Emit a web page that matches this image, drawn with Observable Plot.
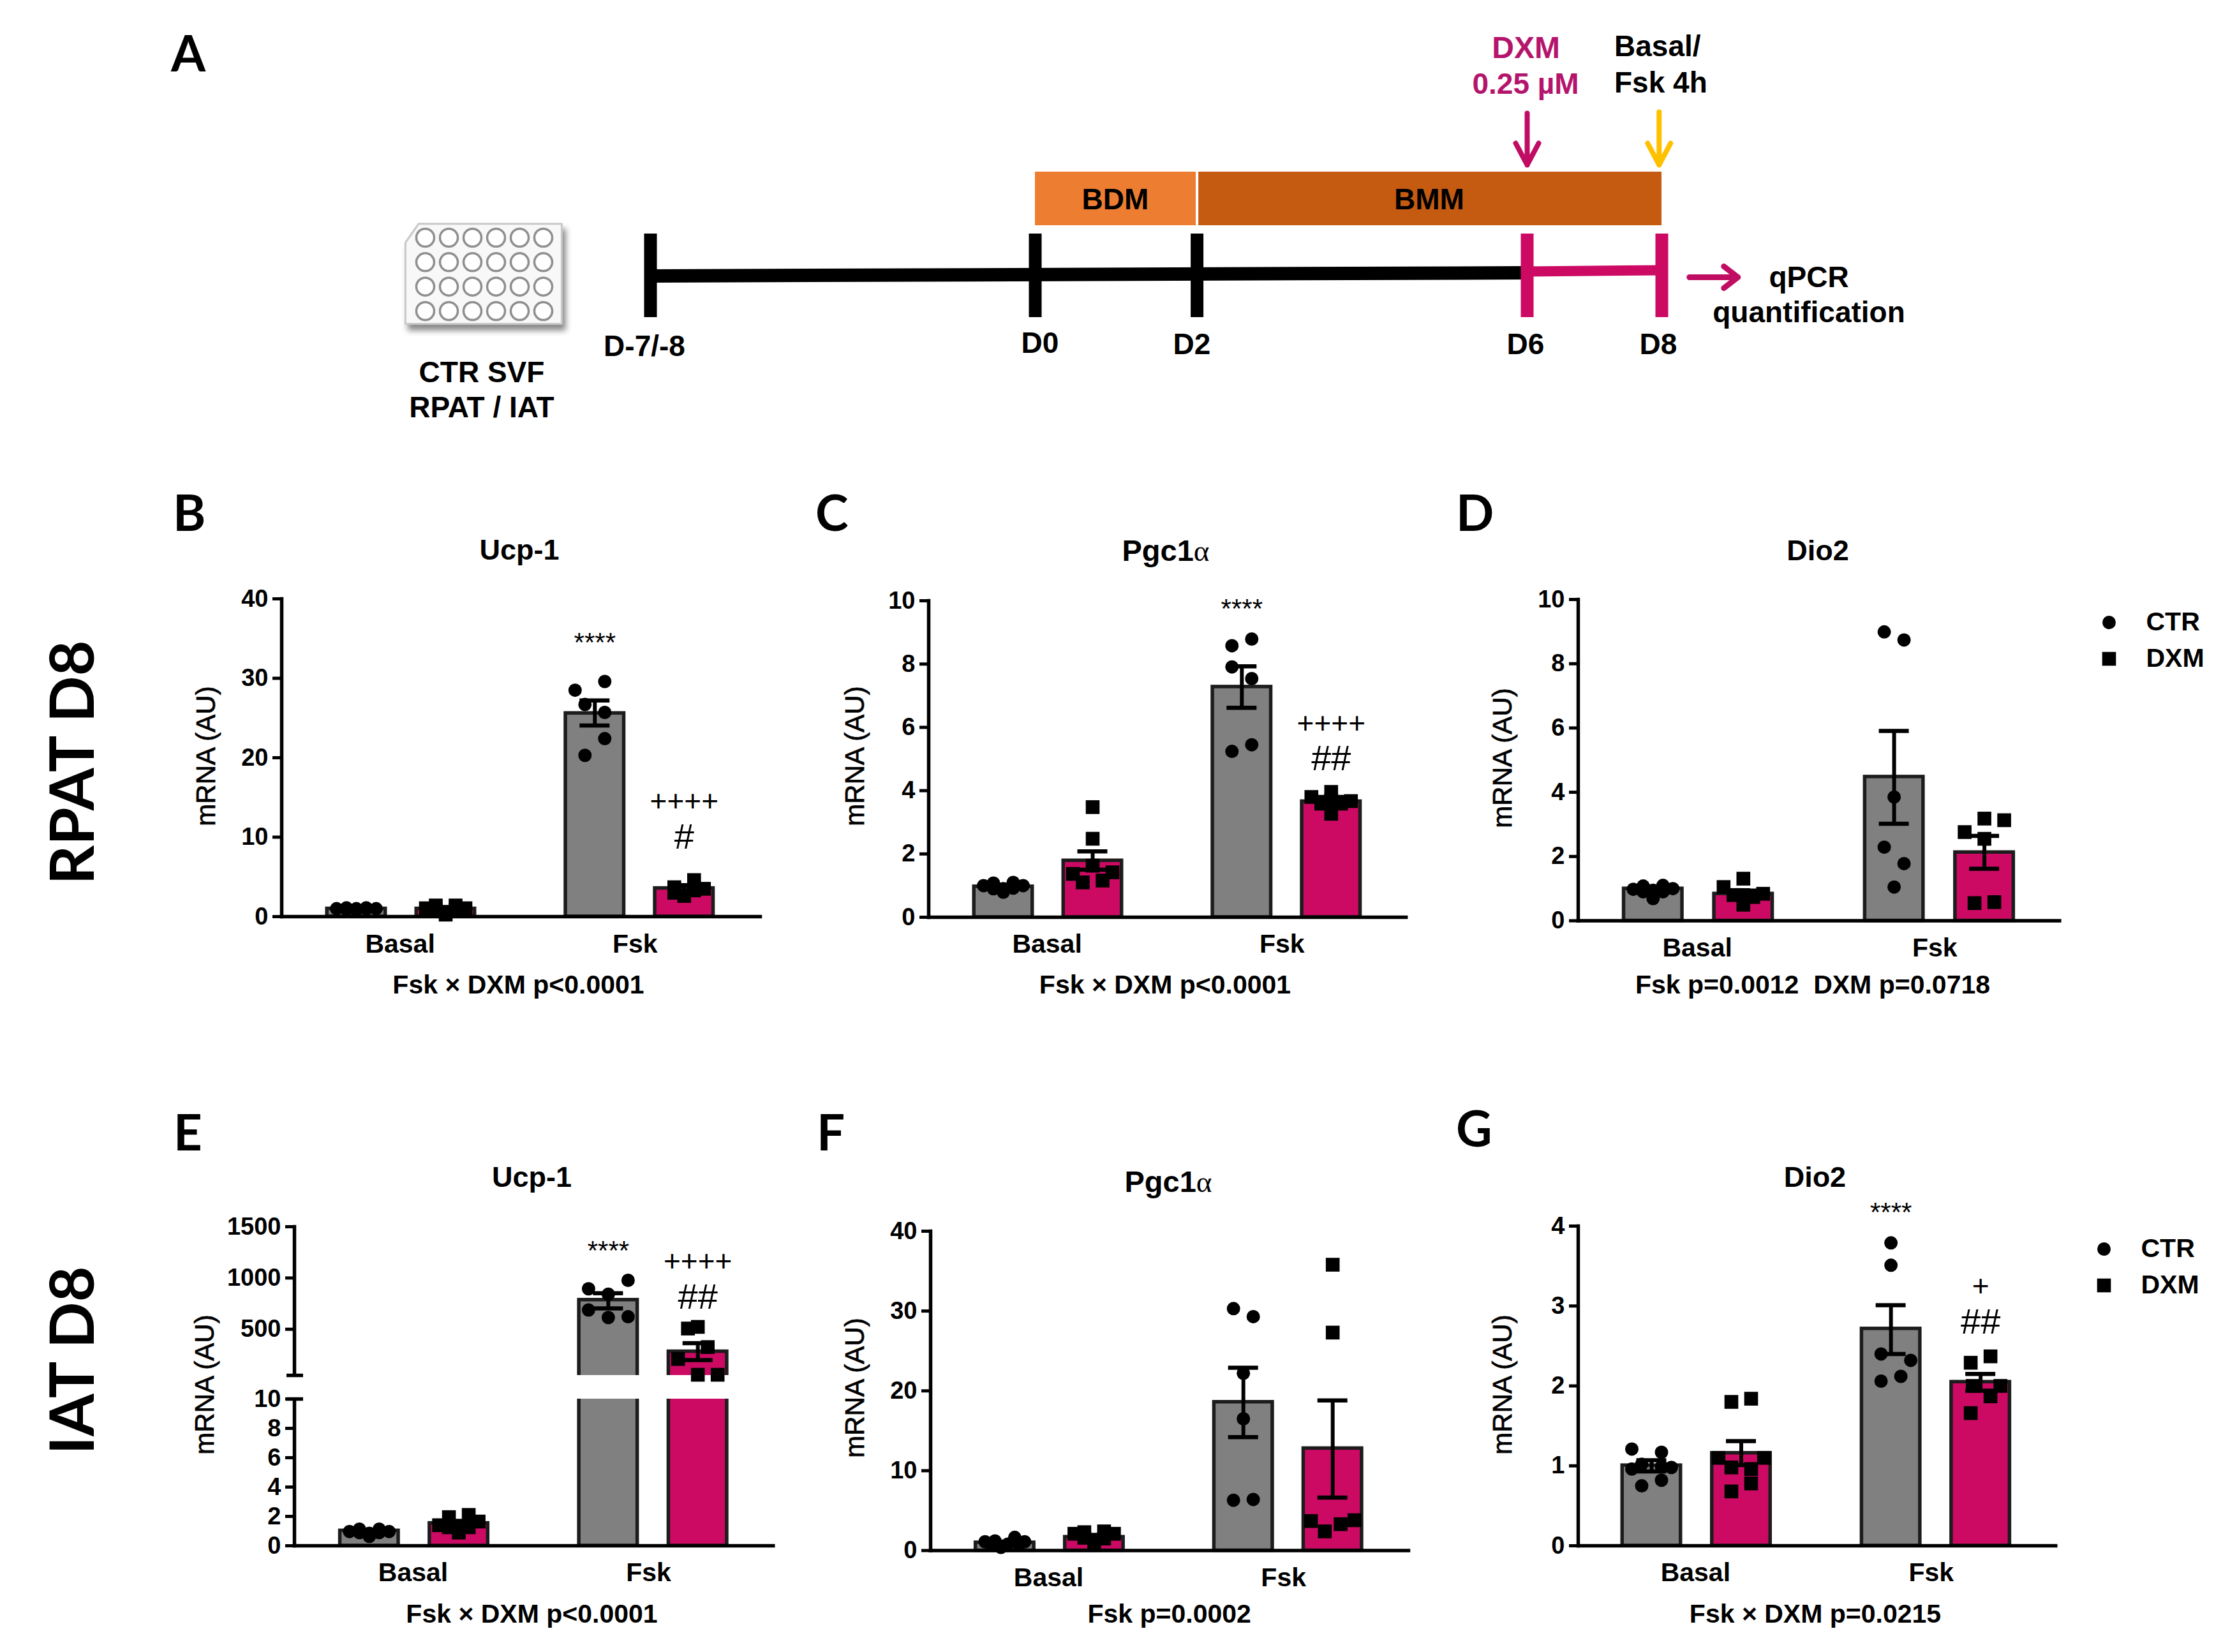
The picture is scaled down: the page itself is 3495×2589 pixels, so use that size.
<!DOCTYPE html>
<html>
<head>
<meta charset="utf-8">
<script src="https://cdn.jsdelivr.net/npm/d3@7"></script>
<script src="https://cdn.jsdelivr.net/npm/@observablehq/plot@0.6"></script>
<style>
html,body{margin:0;padding:0;background:#fff}
#page{position:relative;width:3495px;height:2589px;overflow:hidden;background:#fff;font-family:"Liberation Sans",sans-serif;color:#000}
.lab{position:absolute;white-space:nowrap;line-height:1}
</style>
</head>
<body>
<div id="page"></div>
<script>
// ---------- values ----------
const treatments = ["CTR","DXM","CTR","DXM"];
const conditions = ["Basal","Basal","Fsk","Fsk"];

const bMeans = [1.0,1.0,25.6,3.57];
const bHi = [1.05,1.15,27.2,3.95];
const bLo = [0.95,0.85,24.05,3.2];
const bValues = [[1.0,1.1,0.85,1.1,1.0,0.9,0.95,1.0],[1.4,1.4,1.05,1.05,0.25,0.8,0.85,0.6],[28.5,29.6,26.7,25.7,22.4,20.3],[3.7,4.6,3.5,2.6,3.3,3.0]];
const bSlots = [[-2,-1,0,1,2,-1,1,0],[-1,1,-2,2,0,-1,1,0],[-2,1,-1,1,1,-1],[-1,1,2,0,1,-1]];

const cMeans = [0.97,1.79,7.28,3.66];
const cHi = [1.03,2.08,7.93,3.8];
const cLo = [0.91,1.5,6.62,3.52];
const cValues = [[1.0,1.08,1.1,1.0,0.79,0.9,0.9,0.92],[3.48,2.48,1.37,1.42,1.1,1.16,1.63],[8.79,8.58,7.91,7.54,5.45,5.24],[3.8,3.96,3.67,3.59,3.59,3.27,3.7]];
const cSlots = [[-2,-1,1,2,0,0,-1,1],[0,0,-2,2,-1,1,0],[1,-1,-1,1,1,-1],[-2,0,2,-1,1,0,0]];

const dMeans = [1.0,0.84,4.48,2.13];
const dHi = [1.05,0.94,5.91,2.64];
const dLo = [0.95,0.74,3.02,1.62];
const dValues = [[0.98,1.08,1.1,1.0,0.69,0.95,0.9,0.9],[1.31,1.05,0.84,0.5,0.8,0.74,0.8],[8.99,8.74,3.85,2.29,1.78,1.05],[3.18,3.13,2.76,2.55,0.55,0.58]];
const dSlots = [[-2,-1,1,2,0,0,-1,1],[0,-2,2,0,-1,1,0],[-1,1,0,-1,1,0],[0,2,-2,0,-1,1]];

const eMeans = [1.03,1.54,786,283];
const eHi = [1.08,1.7,852,365];
const eLo = [0.98,1.38,704,200];
const eValues = [[0.97,1.13,1.13,0.97,0.64,0.9,0.85,0.9],[1.95,2.1,1.4,1.65,0.9,1.26,1.26],[977,895,842,688,622,615],[507,523,326,210,56,56]];
const eSlots = [[-2,-1,1,2,0,-1,0,1],[-1,1,-2,2,0,-1,1],[2,-2,0,-2,2,0],[-1,0,1,-2,0,2]];

const fMeans = [1.0,1.7,18.6,12.8];
const fHi = [1.12,1.95,22.9,18.8];
const fLo = [0.88,1.45,14.2,6.64];
const fValues = [[1.1,1.2,1.65,1.1,0.4,0.8,0.8,0.8],[2.1,2.3,2.4,2.1,0.7,1.6,1.5],[30.3,29.3,22.2,16.5,6.3,6.4],[35.8,27.3,3.7,3.3,3.8,2.4]];
const fSlots = [[-2,-1,1,2,-0.4,0.3,-1.4,1.4],[-2,-1,1,2,0,-1,1],[-1,1,0,0,-1,1],[0,0,-2.2,0.8,2.2,-0.8]];

const gMeans = [1.005,1.16,2.716,2.05];
const gHi = [1.07,1.31,3.01,2.15];
const gLo = [0.93,1.01,2.4,1.94];
const gValues = [[1.21,1.17,0.96,1.02,0.98,0.82,0.75,0.99],[1.8,1.84,1.1,1.1,0.98,0.96,0.78,0.68],[3.79,3.51,2.4,2.32,2.12,2.06],[2.37,2.29,2.0,2.0,1.87,1.66]];
const gSlots = [[-2,1,-2,-1,2,1,-1,1],[-1,1,-2.3,2.3,-1,1,1,-1],[0,0,-1,2,1,-1],[1,-1,2,-0.8,1,-1]];

const yTicksB = [0,10,20,30,40];
const yTicksC = [0,2,4,6,8,10];
const yTicksE = [0,2,4,6,8,10,500,1000,1500];
const yTicksG = [0,1,2,3,4];

const days = [-7.5,0,2,6,8];
const dayLabels = ["D-7/-8","D0","D2","D6","D8"];
const mediaNames = ["BDM","BMM"];
const mediaStart = [0,2];
const mediaEnd = [2,8];
const mediaColors = ["#ED7D31","#C55A11"];
const wellCols = [1,2,3,4,5,6];
const wellRows = [1,2,3,4];

// ---------- colours and layout ----------
const GREY="#808080", PINK="#CC0A64", EDGE="#1c1c1c", TPINK="#B4146C";
const page=document.getElementById("page");
const SANS='"Liberation Sans",sans-serif', LATO='Lato,sans-serif';

function lab(html,x,base,o={}){
  const size=o.size??41, weight=o.weight??"bold", anchor=o.anchor??"middle", font=o.font??SANS;
  const k=font===LATO?0.887:0.8465;
  const d=document.createElement("div");
  d.className="lab";
  d.innerHTML=html;
  d.style.cssText+=`left:${x}px;top:${base-k*size}px;font:${weight} ${size}px/1 ${font};color:${o.color??"#000"};`;
  if(anchor==="middle") d.style.transform="translateX(-50%)";
  page.appendChild(d);
}
function vlab(text,cx,cy,o={}){
  const size=o.size??42, weight=o.weight??"normal", font=o.font??SANS;
  const d=document.createElement("div");
  d.className="lab";
  d.textContent=text;
  d.style.cssText+=`left:${cx}px;top:${cy}px;font:${weight} ${size}px/1 ${font};transform:translate(-50%,-50%) rotate(-90deg);-webkit-text-stroke:${o.heavy??0}px #000;`;
  page.appendChild(d);
}
function place(svg){page.appendChild(svg);}

const GAP=2.67, SLOT=15.5, ML=150, MR=20, MT=20, MB=70, BARW=91.5, CAP=23.5;

function panel(p){
  const u=p.unit, areaW=p.xEnd-p.axis, areaH=p.bottom-p.top;
  const pos=[0,1,GAP,GAP+1];
  const xmin=-p.origin/u, xmax=(areaW-p.origin)/u;
  const bars=pos.map((x,i)=>({x,t:treatments[i],c:conditions[i],m:p.means[i],hi:p.hi[i],lo:p.lo[i]}));
  const pts=p.values.flatMap((vs,i)=>vs.map((v,j)=>({x:pos[i]+p.slots[i][j]*SLOT/u,v,t:treatments[i]})));
  const half=BARW/2/u, cap=CAP/u;
  const yDomain=p.yDomain, yRange=(p.yPix??[0,areaH]).map(d=>MT+areaH-d);
  const note=(glyph,size,dy)=>Plot.text(p.notes.filter(d=>d[2][0]===glyph),{x:d=>pos[d[0]],y:d=>d[1],text:d=>d[2],fontSize:size,fontWeight:"normal",dy,lineAnchor:"middle",fill:"#000"});
  const marks=[
    Plot.frame({anchor:"left",stroke:"#000",strokeWidth:5.5}),
    Plot.rect(bars,{x1:d=>d.x-half,x2:d=>d.x+half,y1:()=>0,y2:"m",fill:d=>d.t==="CTR"?GREY:PINK,stroke:EDGE,strokeWidth:5.5})
  ];
  if(p.breakAt){
    marks.push(Plot.rect([0],{x1:xmin-5/u,x2:xmax,y1:p.breakAt[0],y2:p.breakAt[1],fill:"#fff"}));
    marks.push(Plot.ruleY(p.breakAt,{x1:xmin-12/u,x2:xmin+14/u,stroke:"#000",strokeWidth:5.5}));
  }
  marks.push(
    Plot.dot(pts.filter(d=>d.t==="CTR"),{x:"x",y:"v",r:10.5,fill:"#000",symbol:"circle"}),
    Plot.dot(pts.filter(d=>d.t==="DXM"),{x:"x",y:"v",r:12.2,fill:"#000",symbol:"square"}),
    Plot.ruleX(bars,{x:"x",y1:"lo",y2:"hi",stroke:"#000",strokeWidth:6}),
    Plot.ruleY(bars,{y:"hi",x1:d=>d.x-cap,x2:d=>d.x+cap,stroke:"#000",strokeWidth:6.5}),
    Plot.ruleY(bars,{y:"lo",x1:d=>d.x-cap,x2:d=>d.x+cap,stroke:"#000",strokeWidth:6.5}),
    note("*",42,7),
    note("+",46,0),
    note("#",56,0),
    Plot.frame({anchor:"bottom",stroke:"#000",strokeWidth:5.5}),
    Plot.axisY({ticks:p.ticks,tickSize:14,tickPadding:7,tickFormat:d=>String(d),label:null,fontSize:38,fontWeight:"bold",stroke:"#000",strokeWidth:5,fill:"#000"}),
    Plot.text([["Basal",0.49],["Fsk",3.12]],{x:d=>d[1],y:()=>0,text:d=>d[0],fontSize:41,fontWeight:"bold",lineAnchor:"bottom",dy:56,fill:"#000"})
  );
  const svg=Plot.plot({
    width:ML+areaW+MR,height:MT+areaH+MB,marginLeft:ML,marginRight:MR,marginTop:MT,marginBottom:MB,
    x:{type:"linear",domain:[xmin,xmax],axis:null},
    y:{type:"linear",domain:yDomain,range:yRange,axis:null},
    style:{position:"absolute",left:(p.axis-ML)+"px",top:(p.top-MT)+"px",overflow:"visible",maxWidth:"none",background:"transparent",fontFamily:SANS,fontSize:"38px",height:(MT+areaH+MB)+"px"},
    marks
  });
  place(svg);
}

// ---------- panels B..G ----------
panel({axis:441,top:938,bottom:1436,xEnd:1191,unit:140,origin:117,yDomain:[0,40],ticks:yTicksB,means:bMeans,hi:bHi,lo:bLo,values:bValues,slots:bSlots,
  notes:[[2,35,"****"],[3,14.5,"++++"],[3,10,"#"]]});
panel({axis:1454.5,top:941,bottom:1437,xEnd:2202.6,unit:140,origin:117,yDomain:[0,10],ticks:yTicksC,means:cMeans,hi:cHi,lo:cLo,values:cValues,slots:cSlots,
  notes:[[2,9.88,"****"],[3,6.12,"++++"],[3,5.0,"##"]]});
panel({axis:2472.7,top:939,bottom:1442.5,xEnd:3227,unit:141.5,origin:117.3,yDomain:[0,10],ticks:yTicksC,means:dMeans,hi:dHi,lo:dLo,values:dValues,slots:dSlots,notes:[]});
panel({axis:460.7,top:1921.7,bottom:2421.7,xEnd:1211,unit:140.3,origin:117.3,yDomain:[0,10,50,1500],yPix:[0,230,267,500],breakAt:[10,50],ticks:yTicksE,means:eMeans,hi:eHi,lo:eLo,values:eValues,slots:eSlots,
  notes:[[2,1306,"****"],[3,1158,"++++"],[3,812,"##"]]});
panel({axis:1458,top:1929,bottom:2429.5,xEnd:2207,unit:140,origin:116.4,yDomain:[0,40],ticks:yTicksB,means:fMeans,hi:fHi,lo:fLo,values:fValues,slots:fSlots,notes:[]});
panel({axis:2472.7,top:1921,bottom:2422,xEnd:3221,unit:140.5,origin:115,yDomain:[0,4],ticks:yTicksG,means:gMeans,hi:gHi,lo:gLo,values:gValues,slots:gSlots,
  notes:[[2,4.224,"****"],[3,3.24,"+"],[3,2.8,"##"]]});

// ---------- panel titles, captions, axis titles ----------
const ALPHA='Pgc1<span style="font-family:\'Liberation Serif\',serif;font-weight:normal">α</span>';
lab("Ucp-1",814,877,{size:45}); lab(ALPHA,1827,879,{size:47}); lab("Dio2",2849,878,{size:45});
lab("Ucp-1",833.5,1860,{size:45}); lab(ALPHA,1831,1868,{size:47}); lab("Dio2",2844.4,1860.5,{size:45});
lab("Fsk × DXM p&lt;0.0001",812.5,1558); lab("Fsk × DXM p&lt;0.0001",1826,1558); lab("Fsk p=0.0012&nbsp; DXM p=0.0718",2841,1558);
lab("Fsk × DXM p&lt;0.0001",833.5,2544); lab("Fsk p=0.0002",1832.7,2544); lab("Fsk × DXM p=0.0215",2845,2544);
[[323,1185],[1340,1185],[2354.5,1188],[321,2170],[1340,2175],[2354.5,2170]].forEach(([x,y])=>vlab("mRNA (AU)",x,y,{heavy:0.7}));
[["A",268,112],["B",271,832],["C",1278,832],["D",2282,832],["E",272,1803],["F",1280,1803],["G",2282,1797]].forEach(([t,x,b])=>lab(t,x,b,{size:78,font:LATO,anchor:"start"}));
vlab("RPAT D8",110,1195,{size:96,weight:"bold",font:LATO});
vlab("IAT D8",110,2132,{size:96,weight:"bold",font:LATO});

// ---------- legends ----------
function legend(cx,y1,y2,textX){
  const names=["CTR","DXM"];
  place(Plot.plot({
    width:textX-cx+160,height:y2-y1+60,margin:0,
    x:{type:"linear",domain:[0,1],range:[30,30+textX-cx],axis:null},
    y:{type:"point",domain:names,padding:0,range:[30,30+y2-y1],axis:null},
    style:{position:"absolute",left:(cx-30)+"px",top:(y1-30)+"px",overflow:"visible",maxWidth:"none",background:"transparent",fontFamily:SANS},
    marks:[
      Plot.dot(["CTR"],{x:()=>0,y:d=>d,r:10.5,fill:"#000",symbol:"circle"}),
      Plot.dot(["DXM"],{x:()=>0,y:d=>d,r:12.2,fill:"#000",symbol:"square"}),
      Plot.text(names,{x:()=>1,y:d=>d,text:d=>d,textAnchor:"start",fontSize:41,fontWeight:"bold",fill:"#000",lineAnchor:"middle",dy:-1})
    ]
  }));
}
legend(3305,975,1032,3363);
legend(3297,1957,2014,3355);

// ---------- panel A ----------
function headShape(w,h){return {draw(ctx,l){ctx.moveTo(0,0);ctx.lineTo(0,-l);ctx.moveTo(-w,-l+h);ctx.lineTo(0,-l);ctx.lineTo(w,-l+h);}};}
const tick={y1:366,y2:497};
place(Plot.plot({
  width:3495,height:560,margin:0,
  x:{type:"linear",domain:days,range:[1019,1622,1875.6,2393,2604],axis:null},
  y:{type:"identity",axis:null},
  style:{position:"absolute",left:"0px",top:"0px",overflow:"visible",maxWidth:"none",background:"transparent",fontFamily:SANS},
  marks:[
    Plot.rect(mediaNames,{x1:(d,i)=>mediaStart[i],x2:(d,i)=>mediaEnd[i],y1:()=>269,y2:()=>353,fill:(d,i)=>mediaColors[i]}),
    Plot.ruleX([2],{x:d=>d,y1:268,y2:354,stroke:"#fff",strokeWidth:4}),
    Plot.link([0],{x1:days[0],x2:days[3],y1:432,y2:427,stroke:"#000",strokeWidth:21}),
    Plot.link([0],{x1:days[3],x2:days[4],y1:425,y2:423,stroke:PINK,strokeWidth:16}),
    Plot.ruleX(days,{x:d=>d,y1:tick.y1,y2:tick.y2,stroke:d=>d>=6?PINK:"#000",strokeWidth:20}),
    Plot.vector([6],{x:d=>d,y:()=>177,length:81,rotate:180,anchor:"start",shape:headShape(18,34),stroke:"#C00C62",strokeWidth:8,fill:"none"}),
    Plot.vector([8],{x:d=>d-0.04,y:()=>175,length:83,rotate:180,anchor:"start",shape:headShape(18,34),stroke:"#FFC000",strokeWidth:8,fill:"none"}),
    Plot.vector([8.41],{x:d=>d,y:()=>434,length:76,rotate:90,anchor:"start",shape:headShape(17,22),stroke:"#C00C62",strokeWidth:9,fill:"none"})
  ]
}));
lab("DXM",2391.6,92,{size:48,color:TPINK}); lab("0.25 µM",2391,147,{size:46,color:TPINK});
lab("Basal/",2530,88,{size:46,anchor:"start"}); lab("Fsk 4h",2530,144.6,{size:46,anchor:"start"});
lab(mediaNames[0],1748,328,{size:46}); lab(mediaNames[1],2240,328,{size:46});
lab(dayLabels[0],1010,558,{size:46}); lab(dayLabels[1],1630,553,{size:46}); lab(dayLabels[2],1868,555,{size:46});
lab(dayLabels[3],2391,555,{size:46}); lab(dayLabels[4],2599,555,{size:46});
lab("qPCR",2835,450,{size:46}); lab("quantification",2835,505,{size:46});
lab("CTR SVF",755,599,{size:46}); lab("RPAT / IAT",755,654,{size:46});

// plate icon
const plateOutline=[[0.16,1.2],[0.72,0.43],[6.78,0.43],[6.78,4.52],[0.16,4.52],[0.16,1.2]];
place(Plot.plot({
  width:245,height:157,margin:0,
  x:{type:"linear",domain:[1,6],range:[31,216],axis:null},
  y:{type:"linear",domain:[1,4],range:[22,137],axis:null},
  style:{position:"absolute",left:"635px",top:"350px",overflow:"visible",maxWidth:"none",background:"transparent"},
  marks:[
    Plot.line(plateOutline,{x:d=>d[0],y:d=>d[1],fill:"#f8f8f8",stroke:"#c8c8c8",strokeWidth:3,curve:"linear",imageFilter:"drop-shadow(5px 9px 5px #8a8a8a)"}),
    Plot.dot(d3.cross(wellCols,wellRows),{x:d=>d[0],y:d=>d[1],r:14,fill:"#fff",stroke:"#8f8f8f",strokeWidth:3.5})
  ]
}));
</script>
</body>
</html>
